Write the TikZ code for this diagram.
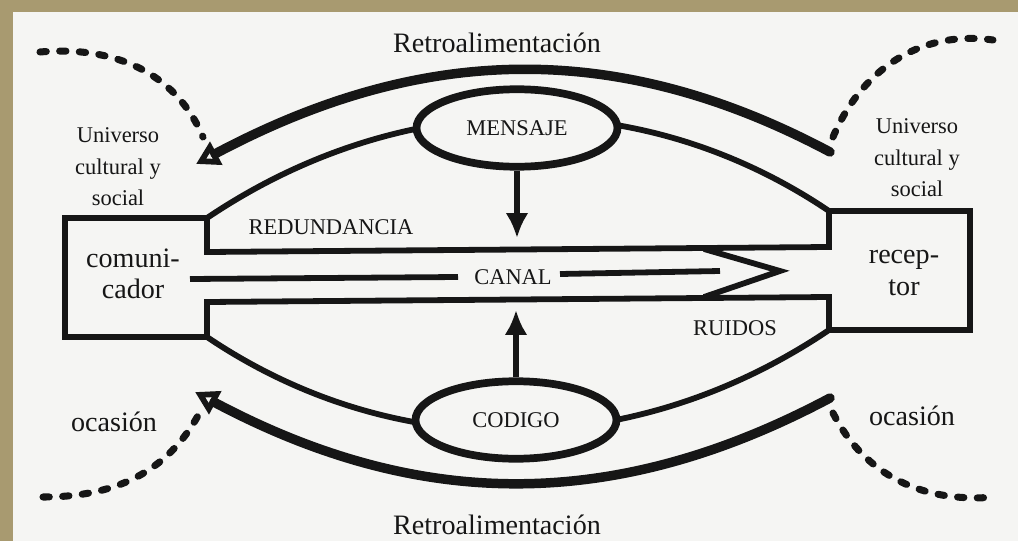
\documentclass[tikz,border=0pt]{standalone}
\usepackage{fontspec}
\setmainfont{Liberation Serif}
\usetikzlibrary{arrows.meta,shapes.geometric}
\definecolor{frame}{RGB}{168,154,112}
\definecolor{paper}{RGB}{245,245,243}
\definecolor{ink}{RGB}{22,22,22}
\begin{document}
\begin{tikzpicture}[x=0.02cm, y=0.02cm]
\tikzstyle{every node}+=[inner sep=0pt, text=ink]
\tikzstyle{wall}=[draw=ink, line width=3.3pt, line join=miter]
\tikzstyle{feed}=[draw=ink, line width=5.4pt, line cap=round, -{Triangle[open, length=0.46cm, width=0.5cm, line width=3.6pt]}]
\tikzstyle{trail}=[draw=ink, line width=4pt, line cap=round, dash pattern=on 3.6pt off 7.6pt]
\tikzstyle{pointer}=[draw=ink, line width=3.3pt, -{Latex[length=0.5cm, width=0.46cm]}]
\tikzstyle{bubble}=[ellipse, draw=ink, line width=4.4pt, fill=paper, minimum width=4.02cm, minimum height=1.55cm]
\tikzstyle{small}=[font=\fontsize{12.8}{18}\selectfont]
\tikzstyle{big}=[font=\fontsize{16}{18}\selectfont]
\useasboundingbox (0,0) rectangle (1018,-541);
\fill[frame] (0,0) rectangle (1018,-541);
\fill[paper] (13,-12) rectangle (1018,-541);
\coordinate (la) at (65,-218);
\coordinate (lb) at (207,-218);
\coordinate (lc) at (207,-252);
\coordinate (rc) at (829,-247);
\coordinate (ra) at (829,-211);
\coordinate (rb) at (970,-211);
\coordinate (rd) at (970,-330);
\coordinate (re) at (829,-330);
\coordinate (rf) at (829,-297);
\coordinate (ld) at (207,-302);
\coordinate (le) at (207,-337);
\coordinate (lf) at (65,-337);
\draw[wall] (lf) -- (la) -- (lb) -- (lc) -- (rc) -- (ra) -- (rb) -- (rd) -- (re) -- (rf) -- (ld) -- (le) -- cycle;
\draw[wall] (lb) to[out=34,in=146,looseness=0.95] (ra);
\draw[wall] (le) to[out=-34,in=-146,looseness=0.95] (re);
\node[bubble, small] (mensaje) at (517,-128) {MENSAJE};
\node[bubble, small] (codigo) at (516,-420) {CODIGO};
\coordinate (mtip) at (517,-238);
\coordinate (ctip) at (516,-310);
\draw[pointer] (mensaje.south) -- (mtip);
\draw[pointer] (codigo.north) -- (ctip);
\node[small] (canal) at (513,-277) {CANAL};
\coordinate (ma) at (190,-279);
\coordinate (mb) at (458,-277);
\coordinate (mc) at (560,-274);
\coordinate (md) at (720,-271);
\draw[wall] (ma) -- (mb);
\draw[wall] (mc) -- (md);
\coordinate (za) at (704,-249);
\coordinate (zb) at (780,-271);
\coordinate (zc) at (704,-297);
\draw[wall] (za) -- (zb) -- (zc);
\coordinate (ftr) at (830,-152);
\coordinate (ftl) at (196,-164);
\coordinate (fbr) at (830,-398);
\coordinate (fbl) at (195,-392);
\draw[feed] (ftr) to[out=152,in=28] (ftl);
\draw[feed] (fbr) to[out=-152,in=-28] (fbl);
\coordinate (tla) at (40,-52);
\coordinate (tlb) at (203,-137);
\coordinate (tra) at (833,-137);
\coordinate (trb) at (993,-40);
\coordinate (bla) at (43,-497);
\coordinate (blb) at (200,-412);
\coordinate (bra) at (833,-413);
\coordinate (brb) at (995,-497);
\draw[trail] (tla) to[out=5,in=113] (tlb);
\draw[trail] (tra) to[out=67,in=172] (trb);
\draw[trail] (bla) to[out=0,in=-118] (blb);
\draw[trail] (bra) to[out=-63,in=-175] (brb);
\node[big] (retroarriba) at (497,-43) {Retroalimentación};
\node[big] (retroabajo) at (497,-525) {Retroalimentación};
\node[small, align=center] (univizq) at (118,-167) {Universo\\cultural y\\social};
\node[small, align=center] (univder) at (917,-158) {Universo\\cultural y\\social};
\node[big, align=center] (comunicador) at (133,-274) {comuni-\\cador};
\node[big, align=center] (receptor) at (904,-273) {recep-\\tor};
\node[small] (redundancia) at (331,-227) {REDUNDANCIA};
\node[small] (ruidos) at (735,-328) {RUIDOS};
\node[big] (ocasionizq) at (114,-422) {ocasión};
\node[big] (ocasionder) at (912,-416) {ocasión};
\end{tikzpicture}
\end{document}
